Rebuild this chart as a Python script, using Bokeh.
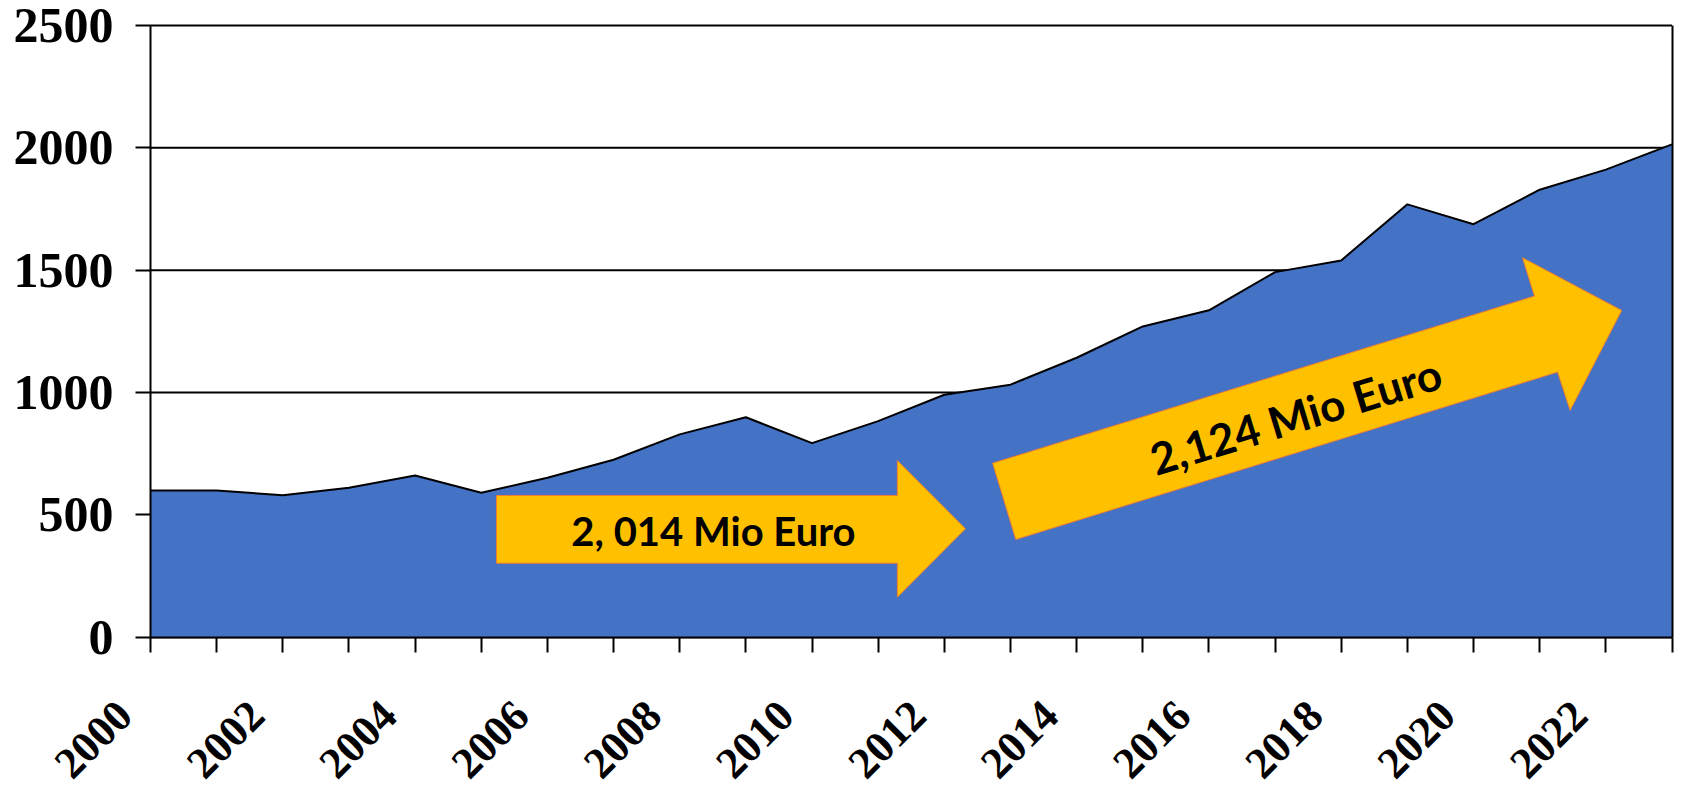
import math
from bokeh.plotting import figure
from bokeh.models import Range1d, FixedTicker, Label, LinearAxis
from bokeh.embed import file_html
from bokeh.resources import INLINE

# ---- data ----
years = list(range(2000, 2024))
values = [600, 600, 580, 611, 661, 590, 652, 725, 829, 899, 793, 883,
          991, 1032, 1142, 1270, 1336, 1492, 1540, 1769, 1688, 1829, 1911, 2014]
y_ticks = [0, 500, 1000, 1500, 2000, 2500]
x_label_years = list(range(2000, 2024, 2))
x_labels = [str(y) for y in x_label_years]
arrow1_text = "2, 014 Mio Euro"
arrow2_text = "2,124 Mio Euro"

BLUE = "#4472C4"
GOLD = "#FFC000"
ORANGE = "#ED7D31"
SERIF = "Liberation Serif"
SANS = "Lato"

# ---- layout (pixels) ----
W, H = 1682, 787
TOP_PX = 25          # screen y of value 2500
ZERO_PX = 636.7      # screen y of value 0
LEFT_PX, RIGHT_PX = 150, 1671.5   # screen x of first / last year
X0, X1 = years[0], years[-1]
Y_MAX = y_ticks[-1]
py = (ZERO_PX - TOP_PX) / Y_MAX          # px per value unit
px = (RIGHT_PX - LEFT_PX) / (X1 - X0)    # px per year

x_range = Range1d(X0 - LEFT_PX / px, X0 + (W - LEFT_PX) / px)
y_range = Range1d(-(H - ZERO_PX) / py, Y_MAX + TOP_PX / py)

p = figure(width=W, height=H, output_backend="svg", toolbar_location=None,
           x_range=x_range, y_range=y_range,
           min_border_left=0, min_border_right=0,
           min_border_top=0, min_border_bottom=0)
p.background_fill_color = "white"
p.border_fill_color = "white"
p.outline_line_color = None
p.xgrid.visible = False
p.ygrid.visible = False

# horizontal grid lines (under the area)
p.segment(x0=X0, x1=X1, y0=y_ticks, y1=y_ticks, line_color="black", line_width=2)

# area
p.varea(x=years, y1=0, y2=values, fill_color=BLUE)
p.line(x=years, y=values, line_color="black", line_width=2)

# y axis at x = 2000
ya = p.yaxis[0]
ya.fixed_location = X0
ya.ticker = FixedTicker(ticks=y_ticks)
ya.bounds = (0, Y_MAX)
ya.axis_line_width = 2
ya.axis_line_color = "black"
ya.major_tick_line_width = 2
ya.major_tick_out = 15
ya.major_tick_in = 0
ya.minor_tick_line_color = None
ya.major_label_text_font = SERIF
ya.major_label_text_font_style = "bold"
ya.major_label_text_font_size = "50px"
ya.major_label_text_color = "black"
ya.major_label_standoff = 22

# right frame line at x = 2023
ra = LinearAxis(fixed_location=X1, ticker=FixedTicker(ticks=[]), bounds=(0, Y_MAX),
                axis_line_width=2, axis_line_color="black",
                major_tick_line_color=None, minor_tick_line_color=None,
                major_label_text_font_size="0px")
p.add_layout(ra, "right")

# x axis at y = 0 (ticks every year)
xa = p.xaxis[0]
xa.fixed_location = 0
xa.bounds = (X0, X1)
xa.ticker = FixedTicker(ticks=years)
xa.major_label_overrides = {y: "" for y in years}
xa.axis_line_width = 2
xa.axis_line_color = "black"
xa.major_tick_line_width = 2
xa.major_tick_out = 15
xa.major_tick_in = 0
xa.minor_tick_line_color = None
xa.major_label_standoff = 0
xa.major_label_text_font_size = "1px"

# x tick labels, rotated 45 degrees
for yr, txt in zip(x_label_years, x_labels):
    p.add_layout(Label(x=yr, y=0, text=txt, angle=math.pi / 4,
                       x_offset=-26, y_offset=-71,
                       text_align="right", text_baseline="middle",
                       text_font=SERIF, text_font_style="bold",
                       text_font_size="44px", text_color="black"))

# arrows (annotation shapes, data units)
arrow1_x = [2005.23, 2011.29, 2011.29, 2012.32, 2011.29, 2011.29, 2005.23]
arrow1_y = [579, 579, 722, 443, 163.5, 302.5, 302.5]
arrow2_x = [2013.08, 2012.73, 2020.92, 2020.74, 2022.24, 2021.46, 2021.27]
arrow2_y = [399.4, 711.4, 1394, 1551, 1335.6, 926.8, 1083.4]

p.patch(x=arrow1_x, y=arrow1_y, fill_color=GOLD, line_color=ORANGE, line_width=1)
p.patch(x=arrow2_x, y=arrow2_y, fill_color=GOLD, line_color=ORANGE, line_width=1)

p.add_layout(Label(x=2008.51, y=436, text=arrow1_text, text_align="center",
                   text_baseline="middle", text_font=SANS, text_font_style="bold",
                   text_font_size="40px", text_color="black"))
p.add_layout(Label(x=2017.31, y=906, text=arrow2_text, text_align="center",
                   text_baseline="middle", angle=math.radians(17),
                   text_font=SANS, text_font_style="bold",
                   text_font_size="44px", text_color="black"))

open("out.html", "w").write(file_html(p, INLINE))
